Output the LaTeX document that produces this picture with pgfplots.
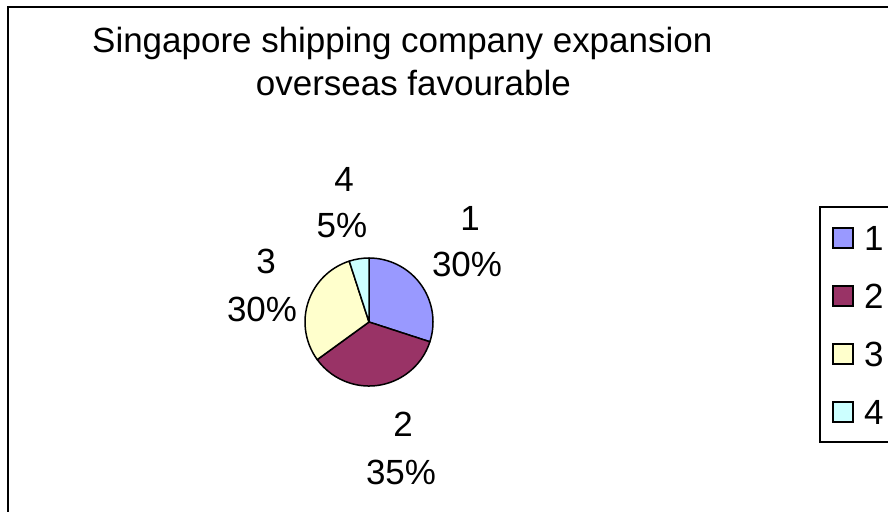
\documentclass[border=0pt]{standalone}
\usepackage{pgfplots}
\usepackage{pgfplotstable}
\pgfplotsset{compat=1.18}
\usepackage{fontspec}
\setmainfont{Liberation Sans}
\definecolor{pie0}{HTML}{9999FF}
\definecolor{pie1}{HTML}{993366}
\definecolor{pie2}{HTML}{FFFFCC}
\definecolor{pie3}{HTML}{CCFFFF}

\pgfplotstableread{
label value
1 30
2 35
3 30
4 5
}\piedata

\def\pcum{0}
\pgfplotsforeachungrouped \i in {0,...,3}{%
  \pgfplotstablegetelem{\i}{value}\of\piedata
  \let\pval\pgfplotsretval
  \pgfmathsetmacro\ps{90-3.6*\pcum}%
  \pgfmathsetmacro\pcum{\pcum+\pval}%
  \pgfmathsetmacro\pe{90-3.6*\pcum}%
  \expandafter\xdef\csname pieS\i\endcsname{\ps}%
  \expandafter\xdef\csname pieE\i\endcsname{\pe}%
}

\begin{document}
\fontsize{35.1pt}{43pt}\selectfont
\begin{tikzpicture}
\useasboundingbox (0,0) rectangle (888bp,512bp);
\clip (0,0) rectangle (888bp,512bp);
\begin{axis}[
  at={(0,0)}, anchor=south west,
  width=888bp, height=512bp, scale only axis,
  xmin=0, xmax=888, ymin=0, ymax=512, y dir=reverse,
  hide axis, clip=false,
]
% outer chart border
\draw[line width=2bp] (axis cs:8,7) rectangle (axis cs:905,530);
% title
\node[anchor=base west, inner sep=0] at (axis cs:92,53) {Singapore shipping company expansion};
\node[anchor=base east, inner sep=0] at (axis cs:571,95) {overseas favourable};
% pie slices from the table
\pgfplotsinvokeforeach{0,...,3}{%
  \edef\tmp{\noexpand\draw[line width=1.5bp, fill=pie#1, line join=round]
    (axis cs:369,322) -- ++(\csname pieS#1\endcsname:64bp)
    arc[start angle=\csname pieS#1\endcsname, end angle=\csname pieE#1\endcsname, radius=64bp] -- cycle;}%
  \tmp
}
% data labels
\node[anchor=base, inner sep=0] at (axis cs:470,230) {1};
\node[anchor=base, inner sep=0] at (axis cs:467,276) {30\%};
\node[anchor=base, inner sep=0] at (axis cs:403,436) {2};
\node[anchor=base, inner sep=0] at (axis cs:401,484) {35\%};
\node[anchor=base, inner sep=0] at (axis cs:266,273) {3};
\node[anchor=base, inner sep=0] at (axis cs:262,321) {30\%};
\node[anchor=base, inner sep=0] at (axis cs:344,191) {4};
\node[anchor=base, inner sep=0] at (axis cs:342,237) {5\%};
% legend
\draw[line width=1.5bp] (axis cs:820,207) rectangle (axis cs:905,442);
\pgfplotsinvokeforeach{0,...,3}{%
  \draw[line width=1.5bp, fill=pie#1] (axis cs:833,{228+58*#1}) rectangle (axis cs:853,{248+58*#1});
}
\node[anchor=base west, inner sep=0] at (axis cs:864,250) {1};
\node[anchor=base west, inner sep=0] at (axis cs:864,308) {2};
\node[anchor=base west, inner sep=0] at (axis cs:864,366) {3};
\node[anchor=base west, inner sep=0] at (axis cs:864,424) {4};
\end{axis}
\end{tikzpicture}
\end{document}
